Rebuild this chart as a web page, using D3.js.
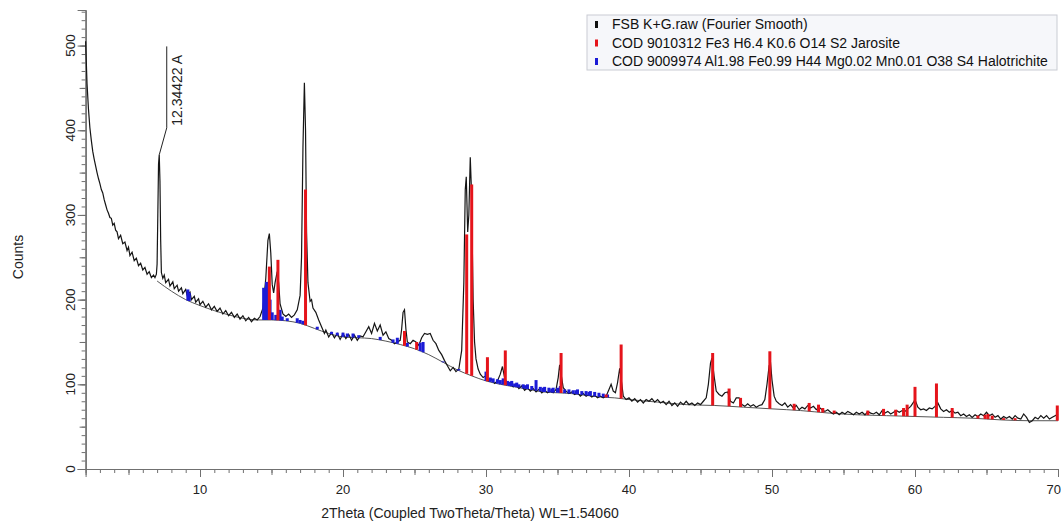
<!DOCTYPE html>
<html>
<head>
<meta charset="utf-8">
<script src="https://cdn.jsdelivr.net/npm/d3@7"></script>
<style>
  body { margin: 0; background: #fff; }
  svg { font-family: Arial, "Liberation Sans", sans-serif; }
</style>
</head>
<body>
<svg id="chart" width="1061" height="524"></svg>
<script>
// measured scan (Fourier smooth), [2theta, counts]
var scan = [
  [2.0,505],[2.05,480],[2.1,455],[2.2,425],[2.3,403],[2.4,388],[2.5,375],[2.6,366],[2.7,358],[2.8,350],
  [2.9,343],[3.0,337],[3.1,330],[3.2,326],[3.3,318],[3.4,312],[3.5,306],[3.6,302],[3.7,297],[3.8,296],
  [3.9,288],[4.0,290],[4.1,282],[4.2,280],[4.3,272],[4.45,276],[4.6,266],[4.75,268],[4.9,258],[5.0,262],
  [5.1,252],[5.25,256],[5.4,246],[5.55,249],[5.7,240],[5.85,243],[6.0,235],[6.15,238],[6.3,230],[6.45,233],
  [6.6,226],[6.75,229],[6.85,226],[6.95,230],[7.0,242],[7.05,300],
  [7.1,360],[7.15,371],[7.2,340],[7.25,270],[7.3,232],[7.4,225],[7.5,229],[7.6,220],[7.8,224],[7.9,216],
  [8.1,221],[8.2,213],[8.4,217],[8.5,210],[8.7,214],[8.8,207],[9.0,212],[9.1,205],[9.3,209],[9.4,200],
  [9.6,204],[9.7,197],[9.9,201],[10.0,194],[10.2,198],[10.4,191],[10.6,195],[10.8,188],[11.0,192],[11.2,186],
  [11.4,190],[11.6,183],[11.8,187],[12.0,181],[12.2,185],[12.4,179],[12.6,183],[12.8,177],[13.0,181],[13.2,175],
  [13.4,179],[13.6,174],[13.8,178],[14.0,176],[14.2,180],[14.4,190],[14.6,225],[14.75,270],[14.85,278],[14.95,255],
  [15.05,218],[15.15,208],[15.25,220],[15.4,233],[15.5,220],[15.6,195],[15.8,183],[16.0,180],[16.2,183],[16.4,179],
  [16.6,182],[16.8,188],[17.0,205],[17.1,250],[17.2,380],[17.3,456],[17.38,400],[17.45,280],[17.55,220],[17.7,198],
  [17.8,200],[17.9,190],[18.1,185],[18.3,176],[18.5,168],[18.7,160],[18.8,164],[19.0,156],[19.2,161],[19.4,155],
  [19.6,160],[19.8,153],[20.0,160],[20.2,154],[20.4,159],[20.6,152],[20.8,158],[21.0,152],[21.2,157],[21.4,156],
  [21.6,162],[21.8,168],[22.0,160],[22.2,172],[22.4,163],[22.6,170],[22.8,158],[23.0,162],[23.2,154],[23.4,152],
  [23.6,148],[23.8,150],[24.0,152],[24.1,165],[24.2,185],[24.3,188],[24.4,165],[24.5,150],[24.7,148],[24.9,152],
  [25.1,150],[25.3,146],[25.5,155],[25.7,160],[25.9,159],[26.1,160],[26.3,152],[26.5,148],[26.7,140],[26.9,135],
  [27.1,128],[27.3,122],[27.5,116],[27.7,120],[27.9,115],[28.1,118],[28.3,140],[28.45,220],[28.55,330],[28.62,345],
  [28.72,280],[28.8,300],[28.9,368],[28.98,330],[29.1,200],[29.2,150],[29.3,130],[29.45,118],[29.6,112],[29.8,108],
  [30.0,110],[30.2,104],[30.4,106],[30.6,101],[30.8,104],[31.0,112],[31.15,121],[31.3,108],[31.5,100],[31.7,102],
  [31.9,97],[32.1,100],[32.3,95],[32.5,98],[32.7,93],[32.9,96],[33.1,92],[33.3,95],[33.5,91],[33.7,94],
  [33.9,90],[34.1,93],[34.3,90],[34.5,92],[34.7,90],[34.9,94],[35.05,108],[35.15,123],[35.25,112],[35.4,96],
  [35.6,92],[35.8,89],[36.0,91],[36.2,88],[36.4,90],[36.6,86],[36.8,89],[37.0,86],[37.2,88],[37.4,85],
  [37.6,87],[37.8,84],[38.0,86],[38.2,84],[38.4,86],[38.6,94],[38.75,100],[38.9,92],[39.05,90],[39.2,102],
  [39.35,119],[39.5,100],[39.6,86],[39.8,82],[40.0,84],[40.2,80],[40.4,83],[40.6,79],[40.8,82],[41.0,78],
  [41.2,82],[41.4,80],[41.6,83],[41.8,79],[42.0,82],[42.2,78],[42.4,80],[42.6,76],[42.8,80],[43.0,75],
  [43.2,78],[43.4,74],[43.6,79],[43.8,76],[44.0,80],[44.2,76],[44.4,78],[44.6,75],[44.8,78],[45.0,76],
  [45.2,80],[45.4,84],[45.55,100],[45.7,125],[45.8,131],[45.95,110],[46.1,92],[46.3,88],[46.5,86],[46.7,90],
  [46.9,91],[47.1,80],[47.3,78],[47.5,84],[47.7,84],[47.9,76],[48.1,74],[48.3,77],[48.5,74],[48.7,76],
  [48.9,73],[49.1,75],[49.3,76],[49.5,82],[49.65,100],[49.8,122],[49.9,125],[50.0,105],[50.15,86],[50.3,80],
  [50.5,77],[50.7,75],[50.9,78],[51.1,73],[51.3,76],[51.5,72],[51.7,75],[51.9,70],[52.1,73],[52.3,71],
  [52.5,75],[52.7,72],[52.9,74],[53.1,70],[53.3,73],[53.5,70],[53.7,68],[53.9,70],[54.1,67],[54.3,65],
  [54.5,67],[54.7,64],[54.9,67],[55.1,65],[55.3,68],[55.5,66],[55.7,64],[55.9,67],[56.1,65],[56.3,67],
  [56.5,64],[56.7,68],[56.9,66],[57.1,65],[57.3,67],[57.5,64],[57.7,69],[57.9,66],[58.1,68],[58.3,65],
  [58.5,67],[58.7,69],[58.9,67],[59.1,69],[59.3,68],[59.5,71],[59.7,74],[59.9,79],[60.0,82],[60.2,73],
  [60.4,70],[60.6,71],[60.8,69],[61.0,72],[61.2,71],[61.4,74],[61.6,78],[61.8,71],[62.0,68],[62.2,70],
  [62.4,67],[62.6,69],[62.8,66],[63.0,67],[63.2,63],[63.4,65],[63.6,62],[63.8,64],[64.0,61],[64.2,64],
  [64.4,62],[64.6,65],[64.8,63],[65.0,67],[65.2,63],[65.4,65],[65.6,61],[65.8,63],[66.0,59],[66.2,62],
  [66.4,60],[66.6,62],[66.8,59],[67.0,63],[67.2,60],[67.4,59],[67.6,65],[67.8,61],[68.0,55],[68.2,57],
  [68.4,61],[68.6,59],[68.8,63],[69.0,60],[69.2,63],[69.4,59],[69.6,61],[69.8,63],[70.0,65]
];

// fitted background, [2theta, counts]
var background = [
  [7,222],[8,210],[9,200],[10,193],[11,187],[12,182],[13,178],[14,176],[15,176],[16,175],
  [17,172],[18,166],[19,160],[20,156],[21,155],[22,154],[23,151],[24,147],[25,142],[26,135],
  [27,126],[28,117],[29,110],[30,104],[31,100],[32,97],[33,94],[34,91],[35,90],[36,89],
  [37,87],[38,85],[39,84],[40,82],[42,79],[44,76],[46,75],[48,73],[50,71],[52,69],
  [54,66],[56,64],[58,63],[60,62],[62,61],[64,60],[66,58],[68,57],[70,57]
];

// Jarosite stick positions and top counts
var jarositePos = [14.85,15.45,17.38,24.3,25.15,28.65,29.0,30.1,31.35,35.25,38.4,39.45,45.85,47.0,47.8,49.85,
  51.55,52.6,53.25,53.55,54.35,56.7,57.8,58.65,59.2,59.45,60.0,61.5,62.6,64.4,64.9,65.1,65.4,66.2,67.0,69.95];
var jarositeTop = [239,247,330,163,150,277,336,132,140,137,88,147,137,95,84,139,
  77,78,76,72,69,69,71,70,72,76,97,101,72,63,64,65,63,60,60,75];

// Halotrichite stick positions and top counts
var halotrichitePos = [9.15,9.25,14.45,14.55,14.65,14.75,14.9,15.05,15.3,15.6,15.75,16.1,16.8,17.0,17.2,
  18.2,19.2,19.6,20.0,20.3,20.7,21.1,22.6,23.5,23.8,24.5,25.4,25.6,27.0,28.1,
  30.0,30.3,30.5,30.8,31.0,31.2,31.5,31.65,31.8,32.0,32.15,32.3,32.6,32.75,32.9,33.2,33.5,33.8,34.0,34.1,
  34.4,34.6,34.7,35.0,35.2,35.5,35.8,36.1,36.3,36.4,36.7,37.0,37.2,37.3,37.6,37.9,38.2,38.5];
var halotrichiteTop = [212,208,214,210,221,205,200,185,182,188,180,178,178,176,175,
  168,162,161,161,160,160,158,156,153,155,149,149,150,127,118,
  115,108,107,106,105,107,104,103,104,101,102,100,100,99,100,98,105,97,96,97,
  96,95,96,96,98,94,94,93,93,94,92,92,91,92,91,90,89,88];

var legendLabels = [
  "FSB K+G.raw (Fourier Smooth)",
  "COD 9010312 Fe3 H6.4 K0.6 O14 S2 Jarosite",
  "COD 9009974 Al1.98 Fe0.99 H44 Mg0.02 Mn0.01 O38 S4 Halotrichite"
];
var legendColors = ["#111111", "#e5141b", "#1b1bd6"];

var xTickLabels = [10, 20, 30, 40, 50, 60, 70];
var yTickLabels = [0, 100, 200, 300, 400, 500];

var peakLabel = { at: 7.15, counts: 371, text: "12.34422 A" };

var svg = d3.select("#chart");
var x = d3.scaleLinear().domain([2, 70]).range([85.6, 1058]);
var y = d3.scaleLinear().domain([0, 542]).range([469, 10]);

// background as piecewise linear lookup
var bgScale = d3.scaleLinear()
  .domain(background.map(function(d) { return d[0]; }))
  .range(background.map(function(d) { return d[1]; }));

var axisColor = "#707070";

// x axis: minor, mid, major ticks
function xAxisLayer(vals, size) {
  var g = svg.append("g")
    .attr("transform", "translate(0," + y(0) + ")")
    .call(d3.axisBottom(x).tickValues(vals).tickSize(size).tickFormat(""));
  g.select(".domain").attr("stroke", axisColor);
  g.selectAll(".tick line").attr("stroke", axisColor);
  return g;
}
xAxisLayer(d3.range(3, 71, 1), 4);
xAxisLayer(d3.range(5, 71, 5), 6);
xAxisLayer(xTickLabels, 8);

function yAxisLayer(vals, size) {
  var g = svg.append("g")
    .attr("transform", "translate(" + x(2) + ",0)")
    .call(d3.axisLeft(y).tickValues(vals).tickSize(size).tickFormat(""));
  g.select(".domain").attr("stroke", axisColor);
  g.selectAll(".tick line").attr("stroke", axisColor);
  return g;
}
yAxisLayer(d3.range(10, 541, 10), 4);
yAxisLayer(d3.range(50, 541, 50), 6);
yAxisLayer(yTickLabels, 8);

svg.selectAll("text.xlab").data(xTickLabels).enter().append("text")
  .attr("class", "xlab")
  .attr("x", function(d) { return d === 70 ? 1061 : x(d); })
  .attr("y", y(0) + 25)
  .attr("text-anchor", function(d) { return d === 70 ? "end" : "middle"; })
  .attr("font-size", 13)
  .attr("fill", "#222")
  .text(function(d) { return d; });

svg.selectAll("text.ylab").data(yTickLabels).enter().append("text")
  .attr("class", "ylab")
  .attr("transform", function(d) { return "translate(" + (x(2) - 11) + "," + y(d) + ") rotate(-90)"; })
  .attr("text-anchor", "middle")
  .attr("font-size", 13.5)
  .attr("fill", "#222")
  .text(function(d) { return d; });

svg.append("text")
  .attr("x", 470).attr("y", 518)
  .attr("text-anchor", "middle")
  .attr("font-size", 14)
  .attr("fill", "#222")
  .text("2Theta (Coupled TwoTheta/Theta) WL=1.54060");

svg.append("text")
  .attr("transform", "translate(23,257) rotate(-90)")
  .attr("text-anchor", "middle")
  .attr("font-size", 14)
  .attr("fill", "#222")
  .text("Counts");

// background curve
svg.append("path")
  .datum(background)
  .attr("fill", "none")
  .attr("stroke", "#555")
  .attr("stroke-width", 1)
  .attr("d", d3.line()
    .x(function(d) { return x(d[0]); })
    .y(function(d) { return y(d[1]); })
    .curve(d3.curveMonotoneX));

// scan curve
svg.append("path")
  .datum(scan)
  .attr("fill", "none")
  .attr("stroke", "#151515")
  .attr("stroke-width", 1.2)
  .attr("d", d3.line().x(function(d) { return x(d[0]); }).y(function(d) { return y(d[1]); }));

// sticks sit on the background
function sticks(pos, tops, color, width) {
  svg.append("g").selectAll("line").data(pos).enter().append("line")
    .attr("x1", function(d) { return x(d); })
    .attr("x2", function(d) { return x(d); })
    .attr("y1", function(d) { return y(bgScale(d)); })
    .attr("y2", function(d, i) { return y(tops[i]); })
    .attr("stroke", color)
    .attr("stroke-width", width);
}
sticks(halotrichitePos, halotrichiteTop, legendColors[2], 3);
sticks(jarositePos, jarositeTop, legendColors[1], 3);

// peak annotation
var px = x(peakLabel.at), py = y(peakLabel.counts);
svg.append("path")
  .attr("d", "M" + px + "," + py + " L" + (px + 7.5) + "," + (py - 27) + " L" + (px + 7.5) + "," + y(499))
  .attr("fill", "none")
  .attr("stroke", "#222")
  .attr("stroke-width", 1);
svg.append("text")
  .attr("transform", "translate(" + (px + 23) + "," + (py - 29) + ") rotate(-90)")
  .attr("font-size", 14)
  .attr("fill", "#222")
  .text(peakLabel.text);

// legend
var lg = svg.append("g").attr("transform", "translate(587,15)");
lg.append("rect")
  .attr("width", 470).attr("height", 55)
  .attr("fill", "#f6f7fa")
  .attr("stroke", "#c9ccd3");
lg.selectAll("rect.mk").data(legendLabels).enter().append("rect")
  .attr("class", "mk")
  .attr("x", 8)
  .attr("y", function(d, i) { return 6 + i * 18.5; })
  .attr("width", 3)
  .attr("height", 7)
  .attr("fill", function(d, i) { return legendColors[i]; });
lg.selectAll("text").data(legendLabels).enter().append("text")
  .attr("x", 25)
  .attr("y", function(d, i) { return 14 + i * 18.5; })
  .attr("font-size", 14)
  .attr("fill", "#111")
  .text(function(d) { return d; });
</script>
</body>
</html>
